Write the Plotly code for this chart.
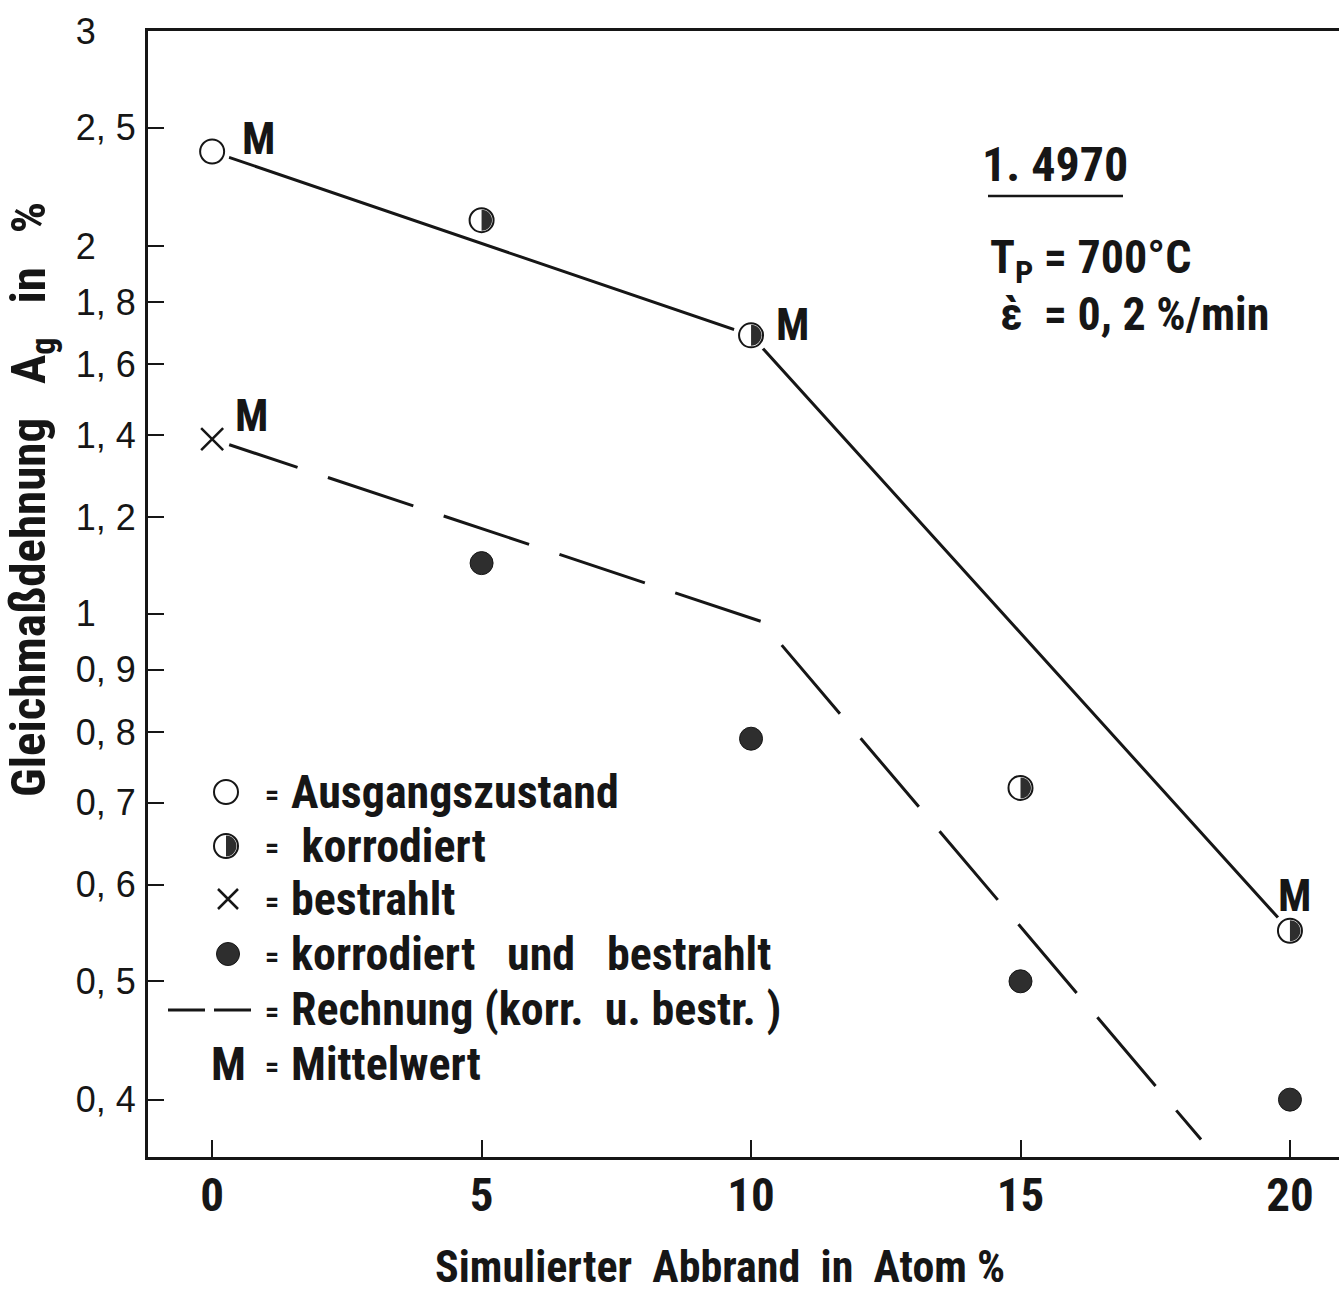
import math
import plotly.graph_objects as go

# ---------------- data ----------------
# Ausgangszustand (open circle)
ausgang_x = [0]
ausgang_y = [2.39]
# korrodiert (half-filled circle)
korr_x = [5, 10, 15, 20]
korr_y = [2.10, 1.69, 0.72, 0.55]
# bestrahlt (cross)
bestr_x = [0]
bestr_y = [1.39]
# korrodiert und bestrahlt (filled circle)
kb_x = [5, 10, 15, 20]
kb_y = [1.10, 0.79, 0.50, 0.40]
# Mittelwert curve (solid line through the mean values)
mittel_x = [0, 10, 20]
mittel_y = [2.39, 1.69, 0.55]
# Rechnung (korr. u. bestr.) - dashed line
rechnung_x = [0, 10.2, 18.35]
rechnung_y = [1.39, 0.985, 0.371]
# points marked "M" (Mittelwert)
m_x = [0, 10, 20, 0]
m_y = [2.39, 1.69, 0.55, 1.39]

x_tickvals = [0, 5, 10, 15, 20]
y_tickvals = [0.4, 0.5, 0.6, 0.7, 0.8, 0.9, 1, 1.2, 1.4, 1.6, 1.8, 2, 2.5, 3]
NB = "\u00a0"
y_ticktext = ["0, 4", "0, 5", "0, 6", "0, 7", "0, 8", "0, 9", "1" + NB * 4,
              "1, 2", "1, 4", "1, 6", "1, 8", "2" + NB * 4, "2, 5", "3" + NB * 4]

X_RANGE = [-1.19, 20.91]
Y_LO, Y_HI = 0.359, 3.0

# ---------------- style ----------------
INK = "#161616"
DARK = "#2e2e2e"
COND = "Roboto Condensed, Open Sans Condensed, DejaVu Sans Condensed, sans-serif"
SANS = "Liberation Sans, Arial, Helvetica, sans-serif"

W, H = 1339, 1295
ML, MR, MT, MB = 148, 0, 31, 138
PW, PH = W - ML - MR, H - MT - MB


def px(xp):
    """figure pixel x -> paper x"""
    return (xp - ML) / PW


def py(yp):
    """figure pixel y -> paper y"""
    return (H - MB - yp) / PH


def cfont(size):
    return dict(family=COND, size=size, color=INK, weight="bold")


fig = go.Figure()

# lines
fig.add_trace(go.Scatter(x=mittel_x, y=mittel_y, mode="lines",
                         line=dict(color=INK, width=3), hoverinfo="skip"))
fig.add_trace(go.Scatter(x=rechnung_x, y=rechnung_y, mode="lines",
                         line=dict(color=INK, width=3, dash="90px,32px"),
                         hoverinfo="skip"))
# white clearance around the mean-value points
fig.add_trace(go.Scatter(x=m_x, y=m_y, mode="markers",
                         marker=dict(symbol="circle", size=36, color="white",
                                     line=dict(width=0)), hoverinfo="skip"))
# markers
fig.add_trace(go.Scatter(x=ausgang_x, y=ausgang_y, mode="markers",
                         marker=dict(symbol="circle", size=24, color="white",
                                     line=dict(color=INK, width=2))))
fig.add_trace(go.Scatter(x=korr_x, y=korr_y, mode="markers",
                         marker=dict(symbol="circle", size=24, color="white",
                                     line=dict(color=INK, width=2))))
fig.add_trace(go.Scatter(x=bestr_x, y=bestr_y, mode="markers",
                         marker=dict(symbol="x-thin", size=22,
                                     line=dict(color=INK, width=2.5))))
fig.add_trace(go.Scatter(x=kb_x, y=kb_y, mode="markers",
                         marker=dict(symbol="circle", size=23, color=DARK,
                                     line=dict(color=INK, width=1))))

shapes = []
annotations = []

R = 10.5
K = 0.5523 * R
HALF = (f"M 0,{-R} C {K:.2f},{-R} {R},{-K:.2f} {R},0 "
        f"C {R},{K:.2f} {K:.2f},{R} 0,{R} Z")

# right half filled for the "korrodiert" points (linear helper axis y2 holds log10 values)
for xv, yv in zip(korr_x, korr_y):
    shapes.append(dict(type="path", xref="x", yref="y2",
                       xsizemode="pixel", ysizemode="pixel",
                       xanchor=xv, yanchor=math.log10(yv),
                       path=HALF, fillcolor=DARK, line=dict(width=0)))

# "M" labels next to the mean values
m_shift = [(46, 13), (41, 10), (5, 35), (39, 23)]
for (xv, yv), (dx, dy) in zip(zip(m_x, m_y), m_shift):
    annotations.append(dict(x=xv, y=math.log10(yv), xref="x", yref="y",
                            text="M", showarrow=False, xshift=dx, yshift=dy,
                            font=cfont(44)))

# ---------- legend ----------
rows = [792, 846, 899, 954, 1009, 1064]
labels = ["Ausgangszustand", NB + "korrodiert", "bestrahlt",
          "korrodiert" + NB * 3 + "und" + NB * 3 + "bestrahlt",
          "Rechnung" + NB + "(korr." + NB + NB + "u." + NB + "bestr." + NB + ")",
          "Mittelwert"]
for yr, lab in zip(rows, labels):
    annotations.append(dict(x=px(289), y=py(yr), xref="paper", yref="paper",
                            xanchor="left", yanchor="middle", text=lab,
                            showarrow=False, font=cfont(46)))
    annotations.append(dict(x=px(272), y=py(yr + 2), xref="paper", yref="paper",
                            xanchor="center", yanchor="middle", text="=",
                            showarrow=False, font=cfont(28)))


def sym_circle(xp, yp, r, fill, lw):
    return dict(type="circle", xref="paper", yref="paper",
                xsizemode="pixel", ysizemode="pixel",
                xanchor=px(xp), yanchor=py(yp), x0=-r, x1=r, y0=-r, y1=r,
                fillcolor=fill, line=dict(color=INK, width=lw))


shapes.append(sym_circle(226, rows[0], 12, "white", 2))
shapes.append(sym_circle(226, rows[1], 12, "white", 2))
shapes.append(dict(type="path", xref="paper", yref="paper",
                   xsizemode="pixel", ysizemode="pixel",
                   xanchor=px(226), yanchor=py(rows[1]),
                   path=HALF, fillcolor=DARK, line=dict(width=0)))
shapes.append(dict(type="path", xref="paper", yref="paper",
                   xsizemode="pixel", ysizemode="pixel",
                   xanchor=px(228), yanchor=py(rows[2]),
                   path="M -10,-10 L 10,10 M -10,10 L 10,-10",
                   line=dict(color=INK, width=2.5)))
shapes.append(sym_circle(228, rows[3], 11.5, DARK, 1))
for x0, x1 in [(168, 205), (214, 251)]:
    shapes.append(dict(type="line", xref="paper", yref="paper",
                       x0=px(x0), x1=px(x1), y0=py(rows[4] + 1), y1=py(rows[4] + 1),
                       line=dict(color=INK, width=3)))
annotations.append(dict(x=px(228), y=py(rows[5]), xref="paper", yref="paper",
                        xanchor="center", yanchor="middle", text="M",
                        showarrow=False, font=cfont(46)))

# ---------- material / test conditions ----------
annotations.append(dict(x=px(1055), y=py(165), xref="paper", yref="paper",
                        xanchor="center", yanchor="middle", text="1." + NB + "4970",
                        showarrow=False, font=cfont(48)))
shapes.append(dict(type="line", xref="paper", yref="paper",
                   x0=px(988), x1=px(1123), y0=py(196), y1=py(196),
                   line=dict(color=INK, width=2.5)))
annotations.append(dict(x=px(988), y=py(260), xref="paper", yref="paper",
                        xanchor="left", yanchor="middle",
                        text="T<sub>P</sub>" + NB + "=" + NB + "700°C",
                        showarrow=False, font=cfont(46)))
annotations.append(dict(x=px(998), y=py(314), xref="paper", yref="paper",
                        xanchor="left", yanchor="middle",
                        text="\u1f72" + NB + NB + "=" + NB + "0," + NB + "2" + NB + "%/min",
                        showarrow=False, font=cfont(46)))

# ---------- axis titles ----------
annotations.append(dict(x=px(720), y=py(1294), xref="paper", yref="paper",
                        xanchor="center", yanchor="bottom", borderpad=0,
                        text="Simulierter" + NB + NB + "Abbrand" + NB + NB + "in" + NB + NB + "Atom" + NB + "%",
                        showarrow=False, font=cfont(44)))
annotations.append(dict(x=px(31), y=py(500), xref="paper", yref="paper",
                        xanchor="center", yanchor="middle", textangle=-90,
                        text="Gleichmaßdehnung" + NB * 3 + "A<sub>g</sub>" + NB * 3 + "in" + NB * 3 + "%",
                        showarrow=False, font=cfont(49)))

fig.update_layout(
    width=W, height=H,
    margin=dict(l=ML, r=MR, t=MT, b=MB, pad=0),
    paper_bgcolor="white", plot_bgcolor="white",
    showlegend=False,
    shapes=shapes, annotations=annotations,
    xaxis=dict(range=X_RANGE, tickvals=x_tickvals,
               ticktext=[str(v) for v in x_tickvals],
               ticks="inside", ticklen=17, tickwidth=2, tickcolor=INK,
               showline=True, linewidth=3, linecolor=INK, mirror=True,
               showgrid=False, zeroline=False,
               tickfont=cfont(47), ticklabelstandoff=-5),
    yaxis=dict(type="log", range=[math.log10(Y_LO), math.log10(Y_HI)],
               tickvals=y_tickvals, ticktext=y_ticktext,
               ticks="inside", ticklen=16, tickwidth=2, tickcolor=INK,
               showline=True, linewidth=3, linecolor=INK,
               showgrid=False, zeroline=False,
               tickfont=dict(family=SANS, size=36, color=INK),
               ticklabelstandoff=2),
    yaxis2=dict(overlaying="y", range=[math.log10(Y_LO), math.log10(Y_HI)],
                visible=False, showgrid=False, zeroline=False),
)

fig.write_html("out.html")
